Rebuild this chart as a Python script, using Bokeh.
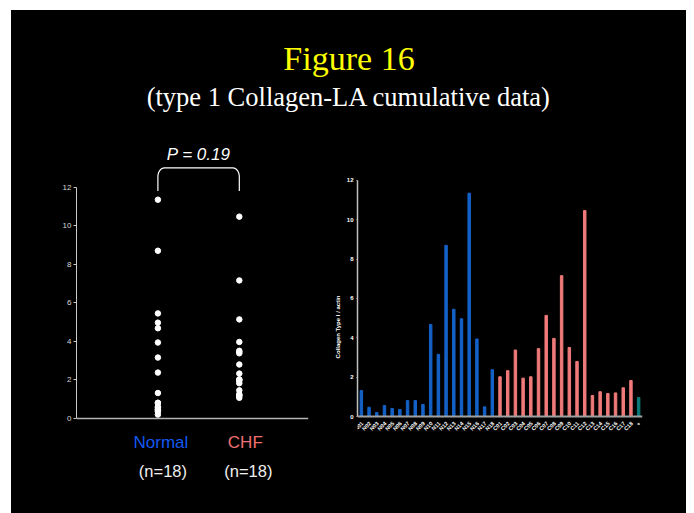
import numpy as np
from bokeh.plotting import figure
from bokeh.models import Range1d, FactorRange, FixedTicker, Span, ColumnDataSource
from bokeh.layouts import column, row
from bokeh.embed import file_html
from bokeh.resources import INLINE
from bokeh.core.properties import value

# ---------------- data ----------------
title_text = ["Figure 16"]
subtitle_text = ["(type 1 Collagen-LA cumulative data)"]
groups = ["Normal", "CHF"]
group_counts = ["(n=18)", "(n=18)"]
p_value_text = ["P = 0.19"]

normal_values = [1.32, 0.47, 0.20, 0.56, 0.41, 0.36, 0.81, 0.81, 0.61,
                 4.68, 3.16, 8.70, 5.45, 4.97, 11.35, 3.94, 0.49, 2.38]
chf_values = [2.02, 2.33, 3.38, 1.95, 2.02, 3.45, 5.14, 3.97, 7.16,
              3.51, 2.80, 10.47, 1.07, 1.26, 1.17, 1.20, 1.46, 1.83]
control_values = [0.97]

normal_labels = ["N01", "N02", "N03", "N04", "N05", "N06", "N07", "N08", "N09",
                 "N10", "N11", "N12", "N13", "N14", "N15", "N16", "N17", "N18"]
chf_labels = ["C01", "C02", "C03", "C04", "C05", "C06", "C07", "C08", "C09",
              "C10", "C11", "C12", "C13", "C14", "C15", "C16", "C17", "C18"]
control_labels = ["+"]

y_ticks = [0, 2, 4, 6, 8, 10, 12]
bar_y_label = "Collagen Type I / actin"

BLUE = "#1462c8"
PINK = "#f07a7a"
TEAL = "#0a7a78"
BG = "#000000"


def base(width, height, x_range, y_range):
    p = figure(width=width, height=height, x_range=x_range, y_range=y_range,
               output_backend="svg", toolbar_location=None, title=None)
    p.background_fill_color = BG
    p.border_fill_color = BG
    p.outline_line_color = None
    p.xgrid.visible = False
    p.ygrid.visible = False
    p.min_border_top = 0
    p.min_border_bottom = 0
    p.min_border_left = 0
    p.min_border_right = 0
    p.styles = {"background-color": BG}
    return p


def style_y_axis(ax, color, label_color, size, bold):
    ax.ticker = FixedTicker(ticks=y_ticks)
    ax.bounds = (0, 12)
    ax.axis_line_color = color
    ax.major_tick_line_color = color
    ax.major_tick_in = 0
    ax.minor_tick_line_color = None
    ax.major_label_text_color = label_color
    ax.major_label_text_font = "Liberation Sans"
    ax.major_label_text_font_size = size
    if bold:
        ax.major_label_text_font_style = "bold"


ROW_H = 373

# ---------------- title panel ----------------
t = base(675, 130, Range1d(0, 1), Range1d(0, 1))
t.xaxis.visible = False
t.yaxis.visible = False
t.text(x=[0.5], y=[0.631], text=title_text, text_align="center",
       text_baseline="middle", text_color="#ffff00",
       text_font=value("Liberation Serif"), text_font_size="34px")
t.text(x=[0.5], y=[0.333], text=subtitle_text, text_align="center",
       text_baseline="middle", text_color="#ffffff",
       text_font=value("Liberation Serif"), text_font_size="26.5px")

# ---------------- left: dot plot ----------------
gx = list(range(1, len(groups) + 1))
left = base(320, ROW_H, Range1d(0, 2.85), Range1d(-4.93, 14.42))
left.min_border_left = 65
left.min_border_right = 23
left.xaxis.visible = False

xs = [gx[0]] * len(normal_values) + [gx[1]] * len(chf_values)
ys = normal_values + chf_values
left.scatter(x=xs, y=ys, size=5.5, fill_color="#ffffff", line_color="#ffffff")

left.add_layout(Span(location=0, dimension="width", line_color="#b4b4b4", line_width=1.5))

ya = left.yaxis[0]
style_y_axis(ya, "#c8c8c8", "#d8d8d8", "8px", False)
ya.major_tick_out = 3
ya.major_label_standoff = 2

# bracket with p-value, derived from group positions and maxima
top_all = max(ys)
b_low = top_all + 0.45
b_high = top_all + 1.65
r = 0.08
arc = np.linspace(0, np.pi / 2, 8)
bx = np.concatenate([[gx[0]], gx[0] + r - r * np.cos(arc),
                     gx[1] - r + r * np.cos(arc[::-1]), [gx[1]]])
by_c = b_high - 0.45 * (1 - np.sin(arc))
by = np.concatenate([[b_low], by_c, by_c[::-1], [b_low]])
left.line(x=bx, y=by, line_color="#ffffff", line_width=1.2)
left.text(x=[(gx[0] + gx[1]) / 2], y=[b_high + 0.67], text=p_value_text,
          text_align="center", text_baseline="middle", text_color="#ffffff",
          text_font=value("Liberation Sans"), text_font_style="italic",
          text_font_size="17px")

left.text(x=gx, y=[-1.245] * len(gx), text=groups, text_align="center",
          text_baseline="middle", x_offset=[3, 6], text_color=["#1358f0", "#f07070"],
          text_font=value("Liberation Sans"), text_font_size="17px")
left.text(x=gx, y=[-2.72] * len(gx), text=group_counts, text_align="center",
          text_baseline="middle", x_offset=[5, 9], text_color="#f0f0f0",
          text_font=value("Liberation Sans"), text_font_size="16.5px")

# ---------------- right: bar chart ----------------
factors = normal_labels + chf_labels + control_labels
bar_vals = normal_values + chf_values + control_values
bar_cols = [BLUE] * len(normal_values) + [PINK] * len(chf_values) + [TEAL] * len(control_values)
src = ColumnDataSource(dict(x=factors, top=bar_vals, color=bar_cols))

right = base(355, ROW_H, FactorRange(*factors), Range1d(-4.93, 14.03))
right.min_border_left = 22
right.min_border_right = 44
right.xaxis.visible = False
right.vbar(x="x", top="top", width=0.32, color="color", source=src)
right.add_layout(Span(location=0, dimension="width", line_color="#a0a0a0", line_width=2))
right.text(x="x", y=0, text="x", source=src, angle=np.pi / 4,
           text_align="right", text_baseline="middle", x_offset=1, y_offset=6,
           text_color="#ffffff", text_font=value("Liberation Sans"),
           text_font_style="bold", text_font_size="5.5px")

yb = right.yaxis[0]
style_y_axis(yb, "#c0c0c0", "#ffffff", "6px", True)
yb.axis_line_width = 1.5
yb.major_tick_out = 1
yb.major_label_standoff = 3
yb.axis_label = bar_y_label
yb.axis_label_text_color = "#ffffff"
yb.axis_label_text_font = "Liberation Sans"
yb.axis_label_text_font_style = "bold"
yb.axis_label_text_font_size = "6px"
yb.axis_label_standoff = 3

lower = row(left, right, styles={"background-color": BG})
layout = column(t, lower, margin=(10, 0, 0, 11), styles={"background-color": BG})

open("out.html", "w").write(file_html(layout, INLINE))
